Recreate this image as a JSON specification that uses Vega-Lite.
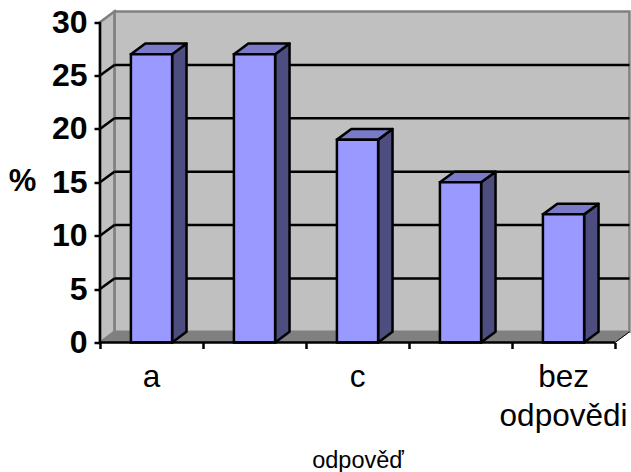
{
"$schema":"https://vega.github.io/schema/vega-lite/v6.json",
"width":531,"height":331,
"autosize":"none",
"padding":{"left":100,"top":11.5,"right":0,"bottom":129.5},
"background":"white",
"config":{"view":{"stroke":null},"font":"Liberation Sans"},
"datasets":{
"bars":[
{"category":"a","value":27,"left":0.3,"right":0.7,"center":0.5},
{"category":"b","value":27,"left":1.3,"right":1.7,"center":1.5},
{"category":"c","value":19,"left":2.3,"right":2.7,"center":2.5},
{"category":"d","value":15,"left":3.3,"right":3.7,"center":3.5},
{"category":"bez\nodpovědi","value":12,"left":4.3,"right":4.7,"center":4.5}
],
"labels":[
{"category":"a","center":0.5},
{"category":"c","center":2.5},
{"category":"bez\nodpovědi","center":4.5}
],
"sides":[
{"bar":"a","x":0.7,"low":0,"high":27},{"bar":"a","x":0.84,"low":1,"high":28},
{"bar":"b","x":1.7,"low":0,"high":27},{"bar":"b","x":1.84,"low":1,"high":28},
{"bar":"c","x":2.7,"low":0,"high":19},{"bar":"c","x":2.84,"low":1,"high":20},
{"bar":"d","x":3.7,"low":0,"high":15},{"bar":"d","x":3.84,"low":1,"high":16},
{"bar":"e","x":4.7,"low":0,"high":12},{"bar":"e","x":4.84,"low":1,"high":13}
],
"tops":[
{"bar":"a","y":27,"left":0.3,"right":0.7},{"bar":"a","y":28,"left":0.44,"right":0.84},
{"bar":"b","y":27,"left":1.3,"right":1.7},{"bar":"b","y":28,"left":1.44,"right":1.84},
{"bar":"c","y":19,"left":2.3,"right":2.7},{"bar":"c","y":20,"left":2.44,"right":2.84},
{"bar":"d","y":15,"left":3.3,"right":3.7},{"bar":"d","y":16,"left":3.44,"right":3.84},
{"bar":"e","y":12,"left":4.3,"right":4.7},{"bar":"e","y":13,"left":4.44,"right":4.84}
],
"grid":[
{"v":5,"back":6},{"v":10,"back":11},{"v":15,"back":16},{"v":20,"back":21},{"v":25,"back":26}
]
},
"layer":[
{"data":{"values":[{"left":0.14,"right":5.14,"low":1,"high":31}]},
 "mark":{"type":"bar","fill":"#C0C0C0","stroke":"#808080","strokeWidth":2.5},
 "encoding":{
  "x":{"field":"left","type":"quantitative","scale":{"domain":[0,5.155],"nice":false,"zero":false},
   "axis":{"values":[0,1,2,3,4,5],"labels":false,"domain":false,"grid":false,"ticks":true,"tickSize":6,"tickWidth":2.5,"tickColor":"black","title":"odpověď","titleFont":"Liberation Sans","titleFontSize":23.5,"titleFontWeight":"normal","titleColor":"black","titleX":257.5,"titleY":125,"titleBaseline":"alphabetic","titleAlign":"center","zindex":1}},
  "x2":{"field":"right"},
  "y":{"field":"low","type":"quantitative","scale":{"domain":[0,31],"nice":false,"zero":false},
   "axis":{"values":[0,5,10,15,20,25,30],"domain":false,"grid":false,"ticks":true,"tickSize":6,"tickWidth":2.5,"tickColor":"black","labelFont":"Liberation Sans","labelFontSize":32,"labelFontWeight":"bold","labelColor":"black","labelPadding":7,"title":"%","titleFont":"Liberation Sans","titleFontSize":31,"titleFontWeight":"bold","titleColor":"black","titleAngle":0,"titleX":-78,"titleY":170,"titleAlign":"center","titleBaseline":"middle","zindex":1}},
  "y2":{"field":"high"}}},
{"data":{"values":[{"x":0,"low":0,"high":30},{"x":0.14,"low":1,"high":31}]},
 "mark":{"type":"area","fill":"#C0C0C0","stroke":"#808080","strokeWidth":2.5},
 "encoding":{"x":{"field":"x","type":"quantitative"},"y":{"field":"low","type":"quantitative"},"y2":{"field":"high"}}},
{"data":{"values":[{"y":0,"left":0,"right":5},{"y":1,"left":0.14,"right":5.14}]},
 "mark":{"type":"area","orient":"horizontal","fill":"#808080","stroke":"#808080","strokeWidth":1},
 "encoding":{"y":{"field":"y","type":"quantitative"},"x":{"field":"left","type":"quantitative"},"x2":{"field":"right"}}},
{"data":{"name":"grid"},
 "mark":{"type":"rule","color":"black","strokeWidth":2.5},
 "encoding":{"x":{"datum":0.14,"type":"quantitative"},"x2":{"datum":5.14},"y":{"field":"back","type":"quantitative"}}},
{"data":{"name":"grid"},
 "mark":{"type":"rule","color":"black","strokeWidth":2.5},
 "encoding":{"x":{"datum":0,"type":"quantitative"},"x2":{"datum":0.14},"y":{"field":"v","type":"quantitative"},"y2":{"field":"back"}}},
{"data":{"name":"sides"},
 "mark":{"type":"area","fill":"#4D4D80","stroke":"black","strokeWidth":2.5,"strokeJoin":"round"},
 "encoding":{"detail":{"field":"bar"},"x":{"field":"x","type":"quantitative"},"y":{"field":"low","type":"quantitative"},"y2":{"field":"high"}}},
{"data":{"name":"tops"},
 "mark":{"type":"area","orient":"horizontal","fill":"#7A7AC8","stroke":"black","strokeWidth":2.5,"strokeJoin":"round"},
 "encoding":{"detail":{"field":"bar"},"y":{"field":"y","type":"quantitative"},"x":{"field":"left","type":"quantitative"},"x2":{"field":"right"}}},
{"data":{"name":"bars"},
 "mark":{"type":"bar","fill":"#9999FF","stroke":"black","strokeWidth":2.5},
 "encoding":{"x":{"field":"left","type":"quantitative"},"x2":{"field":"right"},"y":{"field":"value","type":"quantitative"},"y2":{"datum":0}}},
{"data":{"values":[{"a":1}]},
 "mark":{"type":"rule","color":"black","strokeWidth":2.5},
 "encoding":{"x":{"datum":0,"type":"quantitative"},"y":{"datum":0,"type":"quantitative"},"y2":{"datum":30}}},
{"data":{"values":[{"a":1}]},
 "mark":{"type":"rule","color":"black","strokeWidth":2.5},
 "encoding":{"x":{"datum":0,"type":"quantitative"},"x2":{"datum":5},"y":{"datum":0,"type":"quantitative"}}},
{"data":{"values":[{"a":1}]},
 "mark":{"type":"rule","color":"black","strokeWidth":1},
 "encoding":{"x":{"datum":5,"type":"quantitative"},"x2":{"datum":5.14},"y":{"datum":0,"type":"quantitative"},"y2":{"datum":1}}},
{"data":{"name":"labels"},
 "mark":{"type":"text","font":"Liberation Sans","fontSize":31.5,"color":"black","baseline":"alphabetic","align":"center","dy":44.5,"lineBreak":"\n","lineHeight":39},
 "encoding":{"x":{"field":"center","type":"quantitative"},"y":{"datum":0,"type":"quantitative"},"text":{"field":"category"}}}
]
}
